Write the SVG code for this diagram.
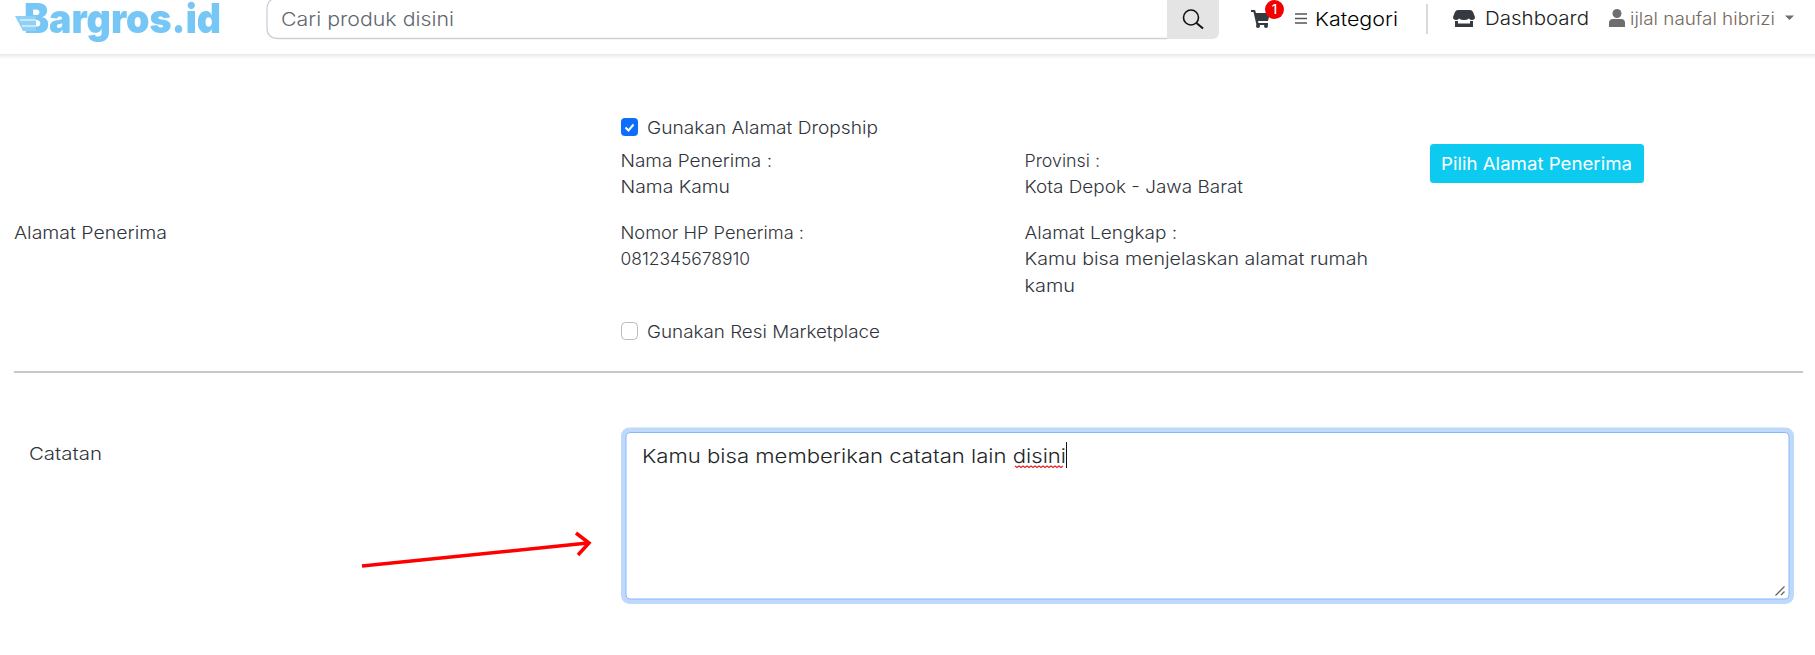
<svg xmlns="http://www.w3.org/2000/svg" width="1815" height="655" viewBox="0 0 1815 655">
<defs>
<linearGradient id="nav" x1="0" y1="0" x2="0" y2="1"><stop offset="0" stop-color="#e8e8e8"/><stop offset="1" stop-color="#ffffff"/></linearGradient>
<filter id="soft" x="-5%" y="-5%" width="110%" height="110%"><feGaussianBlur stdDeviation="0.6"/></filter>
</defs>
<style>
text{font-family:"Inter","Noto Sans","Liberation Sans",sans-serif;font-size:17.5px;font-weight:300;fill:#30343b}
.ph{fill:#5f6871;font-size:18.5px}
.k{fill:#000;font-size:19px}
.d{fill:#222;font-size:18.5px}
.u{fill:#75695e;font-size:17px}
.logo{font-size:41px;font-weight:900;fill:#76c6f6}
.ic{fill:#343a40}
</style>
<rect width="1815" height="655" fill="#ffffff"/>
<g id="navbar">
<rect x="0" y="54" width="1815" height="5" fill="url(#nav)"/>
</g>
<g id="logo" filter="url(#soft)">
<text class="logo" x="24" y="33" textLength="197" lengthAdjust="spacingAndGlyphs">Bargros.id</text>
<path d="M15 16H36V31H23Z" fill="#8fd0f6"/>
<path d="M20 20H36M22 26H36" stroke="#ffffff" stroke-width="1" fill="none"/>
</g>
<g id="search">
<path d="M1167 -2H278Q267 -2 267 10V28Q267 38.500 278 38.500H1167" fill="#fff" stroke="#ccd2da" stroke-width="1.300"/>
<text class="ph" x="281" y="25.500" textLength="173" lengthAdjust="spacingAndGlyphs">Cari produk disini</text>
<path d="M1167 -2H1219V32Q1219 39 1212 39H1167Z" fill="#e4e4e4"/>
<circle cx="1191" cy="17.500" r="7.500" fill="none" stroke="#111" stroke-width="1.600"/>
<path d="M1196.500 23L1203 28.500" stroke="#111" stroke-width="2" fill="none"/>
</g>
<g id="cart">
<path class="ic" d="M1251 10H1255L1256 13H1270L1268 21H1258L1258.500 23H1268V25H1256.500L1253.500 12H1251Z"/>
<circle class="ic" cx="1258" cy="26" r="2"/><circle class="ic" cx="1266" cy="26" r="2"/>
<circle cx="1274.500" cy="9.500" r="9.500" fill="#f00000"/>
<text x="1274.500" y="14" text-anchor="middle" style="font-size:13px;fill:#fff;font-weight:500">1</text>
</g>
<g id="kategori">
<path d="M1295 14H1307M1295 18.500H1307M1295 23H1307" stroke="#555" stroke-width="1.700" fill="none"/>
<text class="k" x="1315" y="26" textLength="83" lengthAdjust="spacingAndGlyphs">Kategori</text>
</g>
<rect x="1426" y="4" width="2" height="30" fill="#d8dadb"/>
<g id="dashboard">
<path class="ic" d="M1458 10H1470Q1472 10 1473 12L1475 17Q1475 20 1472 20Q1470 20 1469 18.500Q1467 20 1464 20Q1461 20 1459 18.500Q1458 20 1456 20Q1453 20 1453 17L1455 12Q1456 10 1458 10Z"/>
<path class="ic" d="M1455 21H1458V23.500H1470V21H1473V27H1455Z"/>
<text class="d" x="1485" y="24.500" textLength="104" lengthAdjust="spacingAndGlyphs">Dashboard</text>
</g>
<g id="user">
<circle cx="1617" cy="13.500" r="4.500" fill="#6e6e6e"/>
<path d="M1609 27V23Q1609 19 1613 19H1621Q1625 19 1625 23V27Z" fill="#6e6e6e"/>
<text class="u" x="1630" y="24.500" textLength="145" lengthAdjust="spacingAndGlyphs">ijlal naufal hibrizi</text>
<path d="M1785 15.500H1794L1789.500 20Z" fill="#6e6e6e"/>
</g>
<g id="alamat-penerima">
<text x="14" y="238.500" textLength="153" lengthAdjust="spacingAndGlyphs">Alamat Penerima</text>
</g>
<g id="dropship">
<rect x="621" y="118" width="17" height="18" rx="4" fill="#0d6efd"/>
<path d="M625.500 127.500L628.500 130.500L633.500 124.500" fill="none" stroke="#fff" stroke-width="2"/>
<text x="647" y="133.500" textLength="231" lengthAdjust="spacingAndGlyphs">Gunakan Alamat Dropship</text>
<text x="620.500" y="166.500" textLength="151.500" lengthAdjust="spacingAndGlyphs">Nama Penerima :</text>
<text x="620.500" y="192.500" textLength="109.500" lengthAdjust="spacingAndGlyphs">Nama Kamu</text>
<text x="620.500" y="238.500" textLength="183.500" lengthAdjust="spacingAndGlyphs">Nomor HP Penerima :</text>
<text x="620.500" y="264.500" textLength="129.500" lengthAdjust="spacingAndGlyphs">0812345678910</text>
<text x="1024.500" y="166.500" textLength="75.500" lengthAdjust="spacingAndGlyphs">Provinsi :</text>
<text x="1024.500" y="192.500" textLength="218.500" lengthAdjust="spacingAndGlyphs">Kota Depok - Jawa Barat</text>
<text x="1024.500" y="238.500" textLength="152.500" lengthAdjust="spacingAndGlyphs">Alamat Lengkap :</text>
<text x="1024.500" y="264.500" textLength="343.500" lengthAdjust="spacingAndGlyphs">Kamu bisa menjelaskan alamat rumah</text>
<text x="1024.500" y="291.500" textLength="50.500" lengthAdjust="spacingAndGlyphs">kamu</text>
</g>
<g id="pilih-alamat">
<rect x="1430" y="144" width="214" height="39" rx="3.500" fill="#0dcaf0"/>
<text x="1441" y="170" textLength="191" lengthAdjust="spacingAndGlyphs" style="fill:#fff;font-weight:400">Pilih Alamat Penerima</text>
</g>
<g id="resi">
<rect x="621.500" y="322.500" width="16" height="17" rx="4" fill="#fff" stroke="#bbb"/>
<text x="647" y="337.500" textLength="233" lengthAdjust="spacingAndGlyphs">Gunakan Resi Marketplace</text>
</g>
<rect x="14" y="371" width="1789" height="2" fill="#c8c8c8"/>
<g id="catatan-label">
<text x="29" y="459.500" textLength="73" lengthAdjust="spacingAndGlyphs">Catatan</text>
</g>
<g id="catatan">
<rect x="623.500" y="430" width="1168" height="171.500" rx="6" fill="#fff" stroke="#bfd9fb" stroke-width="5"/>
<rect x="626" y="432.500" width="1163" height="166.500" rx="4" fill="#fff" stroke="#86b7fe" stroke-width="1"/>
<text x="642" y="462.500" textLength="424" lengthAdjust="spacingAndGlyphs" style="fill:#212529;font-size:19px">Kamu bisa memberikan catatan lain disini</text>
<path d="M1015 466l2 1.500 2-1.500 2 1.500 2-1.500 2 1.500 2-1.500 2 1.500 2-1.500 2 1.500 2-1.500 2 1.500 2-1.500 2 1.500 2-1.500 2 1.500 2-1.500 2 1.500 2-1.500 2 1.500 2-1.500 2 1.500 2-1.500 2 1.500 2-1.500" fill="none" stroke="#e02020" stroke-width="1.100"/>
<path d="M1066.500 442V468" stroke="#111" stroke-width="1"/>
<path d="M1775.500 595.500L1784.500 586.500M1781 595L1784.500 591.500" stroke="#666" stroke-width="1.300" fill="none"/>
</g>
<g id="connectors">
<path d="M362 566L588 543" stroke="#ff0000" stroke-width="3.500" fill="none"/>
<path d="M576 533L589 543L578 555" stroke="#ff0000" stroke-width="3.500" fill="none"/>
</g>
</svg>
